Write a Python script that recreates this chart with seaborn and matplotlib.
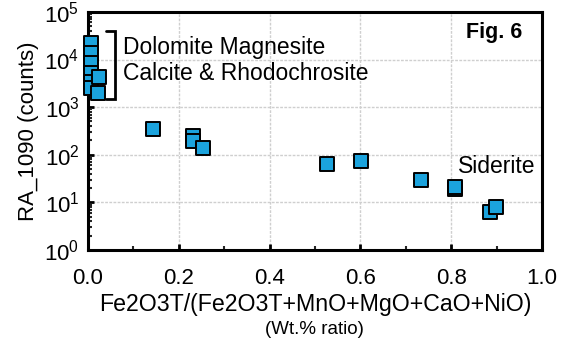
import matplotlib
matplotlib.use("Agg")
import matplotlib.pyplot as plt
import seaborn as sns
import pandas as pd
import numpy as np
from matplotlib.ticker import LogLocator, MultipleLocator, LogFormatterSciNotation, NullFormatter, FormatStrFormatter

# Data
fe_ratio = [0.007, 0.007, 0.007, 0.008, 0.007, 0.008, 0.025, 0.022,
            0.143, 0.231, 0.231, 0.253, 0.526, 0.601, 0.733, 0.808, 0.807, 0.885, 0.899]
ra_1090 = [22000, 13500, 8300, 5100, 3300, 2500, 4200, 2000,
           350, 247, 195, 138, 63, 73, 30, 19, 21, 6.4, 8.1]
x_label = "Fe2O3T/(Fe2O3T+MnO+MgO+CaO+NiO)"
x_sublabel = "(Wt.% ratio)"
y_label = "RA_1090 (counts)"
group_label_1 = "Dolomite Magnesite"
group_label_2 = "Calcite & Rhodochrosite"
siderite_label = "Siderite"
fig_label = "Fig. 6"

df = pd.DataFrame({"x": fe_ratio, "y": ra_1090})

sns.set_theme(style="white")
plt.rcParams["font.family"] = ["Liberation Sans", "DejaVu Sans"]
plt.rcParams["text.color"] = "black"
plt.rcParams["axes.labelcolor"] = "black"
plt.rcParams["mathtext.fontset"] = "custom"
plt.rcParams["mathtext.rm"] = "Liberation Sans"
plt.rcParams["mathtext.it"] = "Liberation Sans:italic"
plt.rcParams["mathtext.bf"] = "Liberation Sans:bold"

fig = plt.figure(figsize=(5.66, 3.41), dpi=100)
ax = fig.add_axes([0.155, 0.267, 0.803, 0.698])

sns.scatterplot(data=df, x="x", y="y", marker="s", s=90, color="#1BA3DD",
                edgecolor="black", linewidth=1.4, ax=ax, zorder=5, legend=False,
                clip_on=False)

ax.set_yscale("log")
ax.set_xlim(0, 1.0)
ax.set_ylim(1, 1e5)
ax.xaxis.set_major_locator(MultipleLocator(0.2))
ax.xaxis.set_minor_locator(MultipleLocator(0.1))
ax.yaxis.set_major_locator(LogLocator(base=10, numticks=10))
ax.yaxis.set_minor_locator(LogLocator(base=10, subs=np.arange(2, 10), numticks=20))
ax.yaxis.set_major_formatter(LogFormatterSciNotation())
ax.yaxis.set_minor_formatter(NullFormatter())
ax.xaxis.set_major_formatter(FormatStrFormatter("%.1f"))

ax.grid(True, which="major", color="#cfcfcf", linestyle=(0, (2, 1)), linewidth=1.0)
ax.set_axisbelow(True)

for sp in ax.spines.values():
    sp.set_linewidth(2.2)
    sp.set_color("black")

ax.tick_params(axis="both", which="major", direction="in", length=4, width=2,
               labelsize=16, colors="black", bottom=True, left=True, top=False, right=False)
ax.tick_params(axis="x", which="major", pad=13)
ax.tick_params(axis="y", which="major", pad=6)
ax.tick_params(axis="both", which="minor", direction="in", length=3, width=1.5,
               bottom=True, left=True, top=False, right=False)

ax.set_xlabel(x_label, fontsize=16.7, labelpad=3, color="black")
ax.set_ylabel(y_label, fontsize=16, labelpad=4, color="black")
fig.text(0.556, 0.035, x_sublabel, ha="center", va="center", fontsize=13.5, color="black")

# Bracket for carbonate group
bx, bl, btop, bbot = 0.059, 0.040, 0.92, 0.633
ax.plot([bl, bx, bx, bl], [btop, btop, bbot, bbot], transform=ax.transAxes,
        color="black", lw=2, clip_on=False, solid_joinstyle="miter")
ax.text(0.077, 0.852, group_label_1, transform=ax.transAxes, fontsize=16.5, va="center", ha="left", color="black")
ax.text(0.077, 0.741, group_label_2, transform=ax.transAxes, fontsize=16.5, va="center", ha="left", color="black")
ax.text(0.815, 0.352, siderite_label, transform=ax.transAxes, fontsize=16.5, va="center", ha="left", color="black")
ax.text(0.955, 0.915, fig_label, transform=ax.transAxes, fontsize=15.5, fontweight="bold",
        va="center", ha="right", color="black")

fig.savefig("out.png", dpi=100)
